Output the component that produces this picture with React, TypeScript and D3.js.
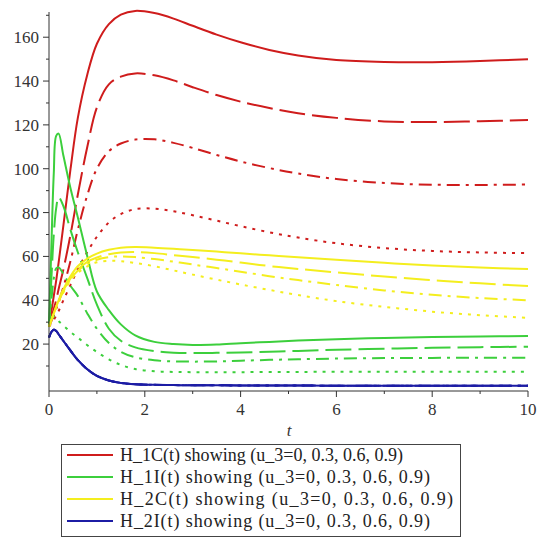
import React, { useRef, useEffect } from 'react';
import * as d3 from 'd3';

// time grid shared by every curve
const tValues = [0, 0.05, 0.1, 0.15, 0.2, 0.3, 0.45, 0.6, 0.8, 1.0, 1.25, 1.5, 1.8, 2.2, 2.6, 3.0, 3.5, 4.0, 4.6, 5.2, 6.0, 7.0, 8.0, 9.0, 10];

// H_1C(t) for u_3 = 0, 0.3, 0.6, 0.9
const h1c_0 = [28, 35, 42, 49, 57, 74, 100, 123, 143, 157, 166, 170.3, 172, 171, 168.5, 165.2, 161.2, 157.7, 154.2, 151.7, 149.6, 148.7, 148.6, 149.1, 150];
const h1c_3 = [28, 32, 36, 40, 45, 54, 70, 88, 110, 128, 138.5, 142, 143.5, 142.6, 140.3, 137.2, 133.6, 130.6, 127.7, 125.3, 123.2, 121.6, 121.3, 121.7, 122.2];
const h1c_6 = [28, 30.5, 33, 36, 39, 46, 58, 72, 88, 100, 108, 111.5, 113.3, 113.4, 111.8, 109.5, 106.3, 103.3, 100.3, 97.8, 95.3, 93.5, 92.7, 92.6, 92.8];
const h1c_9 = [28, 29.5, 31, 33, 35, 40, 47, 54, 62, 69, 75.5, 79.3, 81.6, 81.8, 80.6, 78.8, 76.3, 73.8, 71, 68.6, 66, 63.8, 62.5, 61.8, 61.5];

// H_1I(t)
const h1i_0 = [28, 65, 98, 115, 116, 106, 91, 78, 60, 44, 35.5, 29, 24, 21, 20, 19.6, 19.8, 20.4, 21, 21.6, 22.2, 22.8, 23.2, 23.5, 23.7];
const h1i_3 = [28, 50, 70, 82, 87, 83, 72, 62, 50, 38, 27, 21.5, 18.5, 16.8, 16.1, 15.9, 16, 16.2, 16.5, 16.9, 17.4, 17.9, 18.3, 18.6, 18.8];
const h1i_6 = [28, 40, 50, 54.5, 55, 52, 46.5, 42, 34, 27, 20.5, 16.5, 14, 12.6, 12.1, 12, 12.1, 12.4, 12.8, 13.1, 13.4, 13.6, 13.7, 13.8, 13.8];
const h1i_9 = [28, 31, 32.5, 32, 30.5, 28.5, 25.5, 23, 19.5, 16.4, 13, 10.5, 8.6, 7.6, 7.3, 7.2, 7.2, 7.2, 7.3, 7.3, 7.4, 7.4, 7.4, 7.4, 7.4];

// H_2C(t)
const h2c_0 = [28, 31, 34, 37, 40, 45, 51, 55.5, 59, 61.3, 63, 64, 64.3, 64, 63.5, 62.9, 62.2, 61.4, 60.5, 59.6, 58.5, 57.1, 55.8, 54.9, 54.3];
const h2c_3 = [28, 31, 34, 37, 40, 44.5, 50, 54, 57.5, 59.5, 61, 61.8, 62, 61.5, 60.6, 59.7, 58.5, 57.2, 55.6, 54.3, 52.7, 50.8, 49.2, 47.7, 46.5];
const h2c_6 = [28, 31, 34, 37, 39.5, 44, 49.5, 53.5, 56.5, 58.5, 59.7, 60, 59.7, 58.8, 57.6, 56.3, 54.7, 53, 51, 49.2, 47, 44.5, 42.5, 41, 40];
const h2c_9 = [28, 31, 34, 36.5, 39, 43.5, 49, 52.5, 55.5, 57.3, 58, 57.8, 57, 55.5, 53.6, 51.7, 49.4, 47.2, 44.7, 42.4, 39.6, 37, 34.8, 33.2, 32];

// H_2I(t) - the four curves lie on top of each other
const h2i_0 = [23, 25.5, 26.5, 26, 24.5, 21.5, 17, 12.8, 8.5, 5.5, 3.4, 2.3, 1.7, 1.4, 1.3, 1.2, 1.2, 1.1, 1.1, 1.1, 1.0, 1.0, 1.0, 1.0, 1.0];
const h2i_3 = h2i_0;
const h2i_6 = h2i_0;
const h2i_9 = h2i_0;

const yTicks = [20, 40, 60, 80, 100, 120, 140, 160];
const yMinorTicks = [10, 30, 50, 70, 90, 110, 130, 150, 170];
const xTicks = [0, 2, 4, 6, 8, 10];
const xMinorTicks = [1, 3, 5, 7, 9];

const groups = [
    { label: 'H_1C(t) showing (u_3=0, 0.3, 0.6, 0.9)', color: '#cf1c1c', series: [h1c_0, h1c_3, h1c_6, h1c_9], textLen: 283 },
    { label: 'H_1I(t) showing (u_3=0, 0.3, 0.6, 0.9)', color: '#3ccf3c', series: [h1i_0, h1i_3, h1i_6, h1i_9], textLen: 310 },
    { label: 'H_2C(t) showing (u_3=0, 0.3, 0.6, 0.9)', color: '#f4ee1e', series: [h2c_0, h2c_3, h2c_6, h2c_9], textLen: 333 },
    { label: 'H_2I(t) showing (u_3=0, 0.3, 0.6, 0.9)', color: '#1c1ca4', series: [h2i_0, h2i_3, h2i_6, h2i_9], textLen: 310 },
];

// solid, long dash, dash-dot, dotted
const dashes = [null, '26,7', '13,6,3,6', '3,6'];

export default function App() {
    const ref = useRef<SVGSVGElement>(null);

    useEffect(() => {
        const svg = d3.select(ref.current);
        svg.selectAll('*').remove();

        const font = '"Liberation Serif", "Times New Roman", serif';
        const axisColor = '#333';

        const xScale = d3.scaleLinear().domain([0, 10]).range([49, 528]);
        const yScale = d3.scaleLinear().domain([-1.4, 171.5]).range([391, 12]);

        const line = d3.line<number>()
            .x((d, i) => xScale(tValues[i]))
            .y(d => yScale(d))
            .curve(d3.curveCatmullRom.alpha(0.5));

        // curves
        groups.forEach(g => {
            g.series.forEach((vals, k) => {
                svg.append('path')
                    .attr('d', line(vals))
                    .attr('fill', 'none')
                    .attr('stroke', g.color)
                    .attr('stroke-width', 2)
                    .attr('stroke-dasharray', dashes[k])
                    .attr('stroke-linejoin', 'round');
            });
        });

        // axes
        const y0 = yScale.range()[0];
        const x0 = xScale.range()[0];
        svg.append('line')
            .attr('x1', x0).attr('x2', x0)
            .attr('y1', y0).attr('y2', yScale.range()[1])
            .attr('stroke', axisColor);
        svg.append('line')
            .attr('x1', x0).attr('x2', xScale.range()[1])
            .attr('y1', y0).attr('y2', y0)
            .attr('stroke', axisColor);

        svg.selectAll('line.ytick')
            .data(yTicks).enter().append('line')
            .attr('x1', x0 - 6).attr('x2', x0)
            .attr('y1', d => yScale(d)).attr('y2', d => yScale(d))
            .attr('stroke', axisColor);
        svg.selectAll('line.yminor')
            .data(yMinorTicks).enter().append('line')
            .attr('x1', x0 - 3).attr('x2', x0)
            .attr('y1', d => yScale(d)).attr('y2', d => yScale(d))
            .attr('stroke', axisColor);
        svg.selectAll('text.ylabel')
            .data(yTicks).enter().append('text')
            .attr('x', x0 - 10)
            .attr('y', d => yScale(d) + 6)
            .attr('text-anchor', 'end')
            .style('font-family', font)
            .style('font-size', '17px')
            .attr('fill', '#333')
            .text(d => d);

        svg.selectAll('line.xtick')
            .data(xTicks).enter().append('line')
            .attr('x1', d => xScale(d)).attr('x2', d => xScale(d))
            .attr('y1', y0).attr('y2', y0 + 6)
            .attr('stroke', axisColor);
        svg.selectAll('line.xminor')
            .data(xMinorTicks).enter().append('line')
            .attr('x1', d => xScale(d)).attr('x2', d => xScale(d))
            .attr('y1', y0).attr('y2', y0 + 3)
            .attr('stroke', axisColor);
        svg.selectAll('text.xlabel')
            .data(xTicks).enter().append('text')
            .attr('x', d => xScale(d))
            .attr('y', y0 + 24)
            .attr('text-anchor', 'middle')
            .style('font-family', font)
            .style('font-size', '17px')
            .attr('fill', '#333')
            .text(d => d);

        svg.append('text')
            .attr('x', 289).attr('y', 436)
            .attr('text-anchor', 'middle')
            .style('font-family', font)
            .style('font-size', '17px')
            .style('font-style', 'italic')
            .attr('fill', '#333')
            .text('t');

        // legend
        const legend = svg.append('g');
        legend.append('rect')
            .attr('x', 61.5).attr('y', 444.5)
            .attr('width', 399).attr('height', 92)
            .attr('fill', 'white')
            .attr('stroke', '#444');
        groups.forEach((g, i) => {
            const ly = 455 + i * 22;
            legend.append('line')
                .attr('x1', 67).attr('x2', 113)
                .attr('y1', ly).attr('y2', ly)
                .attr('stroke', g.color)
                .attr('stroke-width', 2);
            legend.append('text')
                .attr('x', 120).attr('y', ly + 6)
                .attr('textLength', g.textLen)
                .attr('lengthAdjust', 'spacing')
                .style('font-family', font)
                .style('font-size', '18px')
                .attr('fill', '#222')
                .text(g.label);
        });
    }, []);

    return (
        <div style={{ position: 'absolute', left: 0, top: 0 }}>
            <svg ref={ref} width={540} height={540}></svg>
        </div>
    );
}
